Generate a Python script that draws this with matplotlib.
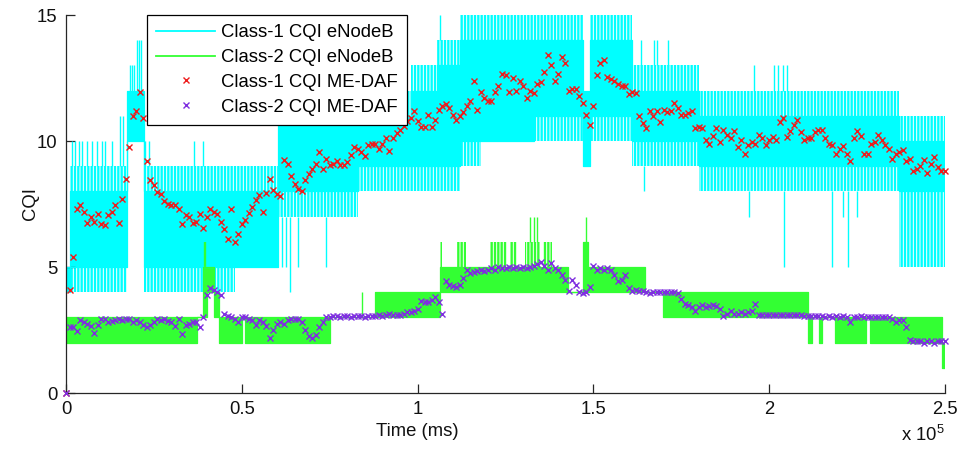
import numpy as np
import matplotlib
matplotlib.use('Agg')
import matplotlib.pyplot as plt
from matplotlib.lines import Line2D

plt.rcParams['font.family'] = ['Liberation Sans', 'DejaVu Sans']
plt.rcParams['mathtext.fontset'] = 'custom'
plt.rcParams['mathtext.rm'] = 'Liberation Sans'
plt.rcParams['mathtext.it'] = 'Liberation Sans:italic'
plt.rcParams['hatch.linewidth'] = 1.7

CYAN = '#00FFFF'
GREEN = '#33FF33'
RED = '#EE1C1C'
PURPLE = '#7F2FE0'
FS = 13.3

# ---------------- data ----------------
# Class-1 CQI eNodeB: segment boundaries (ms), dense core range and frequent-excursion range
c1_bounds = [0, 1200, 17300, 22200, 48000, 60300, 83000, 98000, 105500, 112000,
             118000, 133000, 147000, 149000, 161000, 180000, 237000, 250000]
c1_lo  = [4, 5, 10, 5, 5, 8, 9, 9, 9, 10, 10, 11, 9, 11, 10, 9, 8]
c1_hi  = [5, 8, 12, 8, 8, 11, 11, 12, 13, 14, 14, 14, 12, 14, 12, 11, 10]
c1_flo = [4, 4, 10, 4, 5, 7, 8, 8, 8, 9, 10, 10, 9, 10, 9, 8, 5]
c1_fhi = [5, 9, 12, 9, 9, 12, 12, 13, 14, 15, 15, 15, 12, 15, 13, 12, 11]
# isolated excursions (time ms, from, to)
c1_spk_t  = [1700, 2600, 3700, 4500, 6000, 7400, 8800, 10200, 11100, 13100, 15400, 16200,
             18300, 18800, 19300, 20300, 20800, 21300,
             22500, 23500, 36500, 39000,
             61500, 62500, 63700, 66000, 74000,
             106500, 163600, 164500, 167200, 168000, 171100,
             194300, 195700, 201300, 202600, 204000, 204100, 205100,
             217900, 221000, 222400, 225000]
c1_spk_lo = [9, 9, 9, 9, 9, 9, 9, 9, 9, 9, 9, 9,
             12, 12, 12, 12, 12, 12,
             9, 9, 9, 9,
             5, 5, 4, 5, 5,
             14, 13, 8, 13, 13, 13,
             7, 12, 12, 12, 12, 5, 12,
             5, 7, 5, 7]
c1_spk_hi = [10, 10, 10, 10, 10, 10, 10, 10, 10, 10, 11, 11,
             13, 13, 13, 14, 14, 14,
             10, 10, 10, 10,
             7, 7, 7, 7, 7,
             15, 14, 9, 14, 14, 14,
             8, 13, 13, 13, 13, 8, 13,
             8, 8, 8, 8]

# Class-2 CQI eNodeB
c2_bounds = [0, 37300, 39000, 40100, 42100, 43500, 50100, 50900, 75100, 87900,
             106400, 107000, 111300, 113900, 120600, 125400, 126300, 128300, 130600, 134900,
             135700, 138200, 142800, 147000, 148500, 164700, 169800, 211000, 212200, 214200,
             215000, 218700, 227500, 228600, 249100, 250000]
c2_lo  = [2, 3, 3, 4, 3, 2, 3, 2, 3, 3,
          4, 4, 4, 4, 4, 4, 4, 4, 4, 4, 4, 4,
          4, 4, 4, 4, 3, 2, 3, 2, 3, 2, 3, 2, 1]
c2_hi  = [3, 3, 5, 5, 4, 3, 3, 3, 3, 4,
          5, 5, 5, 5, 5, 5, 5, 5, 5, 5, 5, 5,
          4, 6, 5, 4, 4, 3, 3, 3, 3, 3, 3, 3, 2]
c2_fhi = [3, 3, 6, 5, 4, 3, 3, 3, 3, 4,
          6, 5, 6, 5, 6, 5, 6, 5, 6, 5, 6, 5,
          4, 6, 5, 4, 4, 3, 3, 3, 3, 3, 3, 3, 2]
c2_spk_t  = [84200, 132000, 133200, 134000, 147800]
c2_spk_lo = [3, 6, 6, 6, 6]
c2_spk_hi = [4, 7, 7, 7, 7]

# ME-DAF estimates, one every 1000 ms from 0 to 250000 ms
me_step = 1000
c1_me = [0, 4.1, 5.4, 7.3, 7.45, 7.2, 6.75, 7.0, 6.8, 7.1,
         6.7, 6.65, 7.05, 7.2, 7.45, 6.75, 7.7, 8.5, 9.75, 11.0,
         11.2, 11.95, 10.9, 9.2, 8.45, 8.25, 7.98, 7.9, 7.6, 7.5,
         7.45, 7.45, 7.3, 6.7, 7.05, 7.0, 6.75, 6.8, 7.1, 6.55,
         7.0, 7.3, 7.2, 7.1, 6.8, 6.5, 6.1, 7.3, 6.0, 6.3,
         6.7, 6.85, 7.15, 7.4, 7.65, 7.85, 7.2, 7.95, 8.5, 8.05,
         7.9, 7.8, 9.25, 9.1, 8.6, 8.3, 8.1, 8.0, 8.45, 8.7,
         8.9, 9.1, 9.55, 8.9, 9.3, 9.05, 9.1, 9.2, 9.05, 9.05,
         9.15, 9.45, 9.75, 9.7, 9.55, 9.4, 9.85, 9.9, 9.9, 9.7,
         9.9, 10.1, 9.6, 10.1, 10.3, 10.45, 10.6, 10.8, 10.9, 11.2,
         10.8, 10.55, 10.55, 11.05, 10.55, 10.85, 11.25, 11.4, 11.45, 11.3,
         11.05, 10.85, 11.0, 11.15, 11.4, 11.6, 12.4, 11.25, 11.95, 11.7,
         11.6, 11.6, 11.95, 12.2, 12.65, 12.6, 11.95, 12.5, 12.0, 12.4,
         12.2, 11.7, 12.0, 11.9, 12.25, 12.35, 12.75, 13.4, 13.0, 12.4,
         12.65, 13.35, 13.1, 12.0, 12.05, 12.05, 11.8, 11.5, 11.05, 10.65,
         11.4, 12.6, 13.1, 13.2, 12.55, 12.45, 12.4, 12.25, 12.2, 12.2,
         11.85, 11.95, 11.9, 11.0, 10.7, 10.5, 11.2, 11.0, 11.2, 10.75,
         11.25, 11.15, 11.2, 11.5, 11.3, 11.05, 11.05, 11.1, 11.2, 10.5,
         10.55, 10.5, 10.05, 9.9, 10.2, 10.5, 9.95, 10.45, 10.25, 10.1,
         10.4, 9.75, 10.05, 9.5, 9.85, 9.95, 9.9, 10.25, 10.1, 9.85,
         10.05, 10.15, 10.05, 10.75, 10.9, 10.15, 10.4, 10.65, 10.85, 10.35,
         10.05, 10.1, 10.1, 10.35, 10.45, 10.45, 10.1, 9.9, 9.85, 9.5,
         9.7, 9.8, 9.5, 9.2, 10.1, 10.4, 10.2, 9.5, 9.5, 9.9,
         9.95, 10.25, 10.05, 9.85, 9.7, 9.3, 9.5, 9.55, 9.65, 9.2,
         9.3, 8.8, 8.9, 9.0, 9.25, 8.75, 9.1, 9.35, 8.95, 8.8,
         8.8]
c2_me = [0, 2.6, 2.6, 2.45, 2.9, 2.8, 2.75, 2.65, 2.4, 2.7,
         2.95, 2.95, 2.8, 2.85, 2.9, 2.95, 2.9, 2.95, 2.95, 2.8,
         2.9, 2.8, 2.7, 2.6, 2.7, 2.8, 2.95, 2.9, 2.95, 2.85,
         2.8, 2.65, 2.95, 2.35, 2.7, 2.75, 2.8, 2.8, 2.6, 3.0,
         3.9, 4.15, 4.1, 4.0, 3.9, 3.15, 3.05, 3.0, 2.95, 2.8,
         3.0, 3.0, 2.95, 2.9, 2.7, 2.9, 2.8, 2.65, 2.2, 2.5,
         2.75, 2.8, 2.75, 2.9, 2.95, 2.95, 2.95, 2.8, 2.5, 2.25,
         2.2, 2.3, 2.6, 2.8, 3.0, 3.0, 3.05, 3.05, 3.0, 3.05,
         3.05, 3.0, 3.05, 3.05, 3.05, 3.0, 3.05, 3.05, 3.05, 3.1,
         3.05, 3.1, 3.15, 3.1, 3.1, 3.1, 3.15, 3.2, 3.2, 3.25,
         3.35, 3.65, 3.6, 3.6, 3.7, 3.8, 3.6, 3.15, 4.45, 4.3,
         4.25, 4.2, 4.3, 4.55, 4.9, 4.75, 4.8, 4.85, 4.9, 4.85,
         4.9, 4.95, 4.9, 5.0, 4.95, 4.95, 5.0, 4.95, 5.0, 4.95,
         5.0, 4.95, 5.0, 5.05, 5.1, 5.2, 5.05, 4.9, 5.15, 4.95,
         4.9, 4.7, 4.5, 4.05, 4.5, 4.3, 4.0, 3.95, 4.0, 4.2,
         5.05, 4.9, 4.95, 4.9, 4.95, 4.9, 4.7, 4.45, 4.5, 4.7,
         4.15, 4.05, 4.1, 4.05, 4.05, 4.0, 3.95, 4.0, 4.0, 4.0,
         4.0, 4.0, 4.0, 4.0, 3.95, 3.75, 3.55, 3.5, 3.4, 3.25,
         3.4, 3.5, 3.4, 3.45, 3.5, 3.45, 3.35, 3.05, 3.15, 3.25,
         3.15, 3.15, 3.2, 3.15, 3.2, 3.25, 3.55, 3.1, 3.1, 3.1,
         3.1, 3.1, 3.1, 3.1, 3.1, 3.1, 3.1, 3.1, 3.1, 3.1,
         3.05, 3.05, 3.05, 3.05, 3.05, 3.05, 3.0, 3.05, 3.0, 3.05,
         3.0, 3.05, 3.0, 2.8, 3.0, 3.0, 3.05, 3.0, 3.0, 3.0,
         3.0, 3.0, 3.0, 3.0, 3.0, 2.95, 2.8, 2.9, 2.9, 2.6,
         2.1, 2.05, 2.05, 2.05, 2.0, 2.05, 2.05, 2.0, 2.05, 2.05,
         2.05]

x_ticks = [0, 50000, 100000, 150000, 200000, 250000]
x_tick_labels = ['0', '0.5', '1', '1.5', '2', '2.5']
y_ticks = [0, 5, 10, 15]
legend_labels = ['Class-1 CQI eNodeB', 'Class-2 CQI eNodeB',
                 'Class-1 CQI ME-DAF', 'Class-2 CQI ME-DAF']

# ---------------- drawing ----------------
fig = plt.figure(figsize=(9.58, 4.53), dpi=100)
ax = fig.add_axes([66 / 958, 1 - 393 / 453, 879 / 958, 378 / 453])


def draw_band(bounds, lo, hi, flo, fhi, color):
    b = np.asarray(bounds, float)
    ext = lambda v: np.append(np.asarray(v, float), v[-1])
    ax.fill_between(b, ext(flo), ext(fhi), step='post', facecolor='none',
                    edgecolor=color, hatch='|||||', linewidth=0)
    ax.fill_between(b, ext(lo), ext(hi), step='post', facecolor=color,
                    edgecolor='none', linewidth=0)
    ax.step(b, ext(lo), where='post', color=color, lw=0.9)
    ax.step(b, ext(hi), where='post', color=color, lw=0.9)


draw_band(c1_bounds, c1_lo, c1_hi, c1_flo, c1_fhi, CYAN)
ax.vlines(c1_spk_t, c1_spk_lo, c1_spk_hi, color=CYAN, lw=1.0)
draw_band(c2_bounds, c2_lo, c2_hi, c2_lo, c2_fhi, GREEN)
ax.vlines(c2_spk_t, c2_spk_lo, c2_spk_hi, color=GREEN, lw=1.0)

t_me = np.arange(len(c1_me)) * me_step
ax.plot(t_me, c1_me, 'x', color=RED, ms=5, mew=1.0, clip_on=False, zorder=4)
ax.plot(t_me, c2_me, 'x', color=PURPLE, ms=5, mew=1.0, clip_on=False, zorder=5)

ax.set_xlim(0, 250000)
ax.set_ylim(0, 15)
ax.set_xticks(x_ticks)
ax.set_xticklabels(x_tick_labels)
ax.set_yticks(y_ticks)
for s in ['top', 'right']:
    ax.spines[s].set_visible(False)
for s in ['left', 'bottom']:
    ax.spines[s].set_color('#262626')
    ax.spines[s].set_linewidth(0.9)
ax.tick_params(direction='in', length=6.5, width=0.9, color='#262626',
               labelsize=FS, pad=6, labelcolor='#111111')

ax.set_xlabel('Time (ms)', fontsize=FS, color='#111111')
ax.xaxis.set_label_coords((417 - 66) / 879, -0.08)
ax.set_ylabel('CQI', fontsize=FS, color='#111111')
ax.yaxis.set_label_coords(-0.031, 0.5)
ax.text(1.0, -0.085, r'x 10$^{5}$', transform=ax.transAxes, ha='right',
        va='top', fontsize=FS, color='#111111')

handles = [Line2D([], [], color=CYAN, lw=1.3),
           Line2D([], [], color=GREEN, lw=1.3),
           Line2D([], [], color=RED, marker='x', ls='none', ms=5, mew=1.0),
           Line2D([], [], color=PURPLE, marker='x', ls='none', ms=5, mew=1.0)]
leg = ax.legend(handles, legend_labels, loc='upper left',
                bbox_to_anchor=((147 - 66) / 879, 1.0), borderaxespad=0,
                fontsize=FS, frameon=True, fancybox=False, framealpha=1,
                edgecolor='black', handlelength=3.2, handletextpad=0.33,
                labelspacing=0.42, borderpad=0.5)
leg.get_frame().set_linewidth(0.9)
leg.set_zorder(10)

fig.savefig('out.png', dpi=100)
